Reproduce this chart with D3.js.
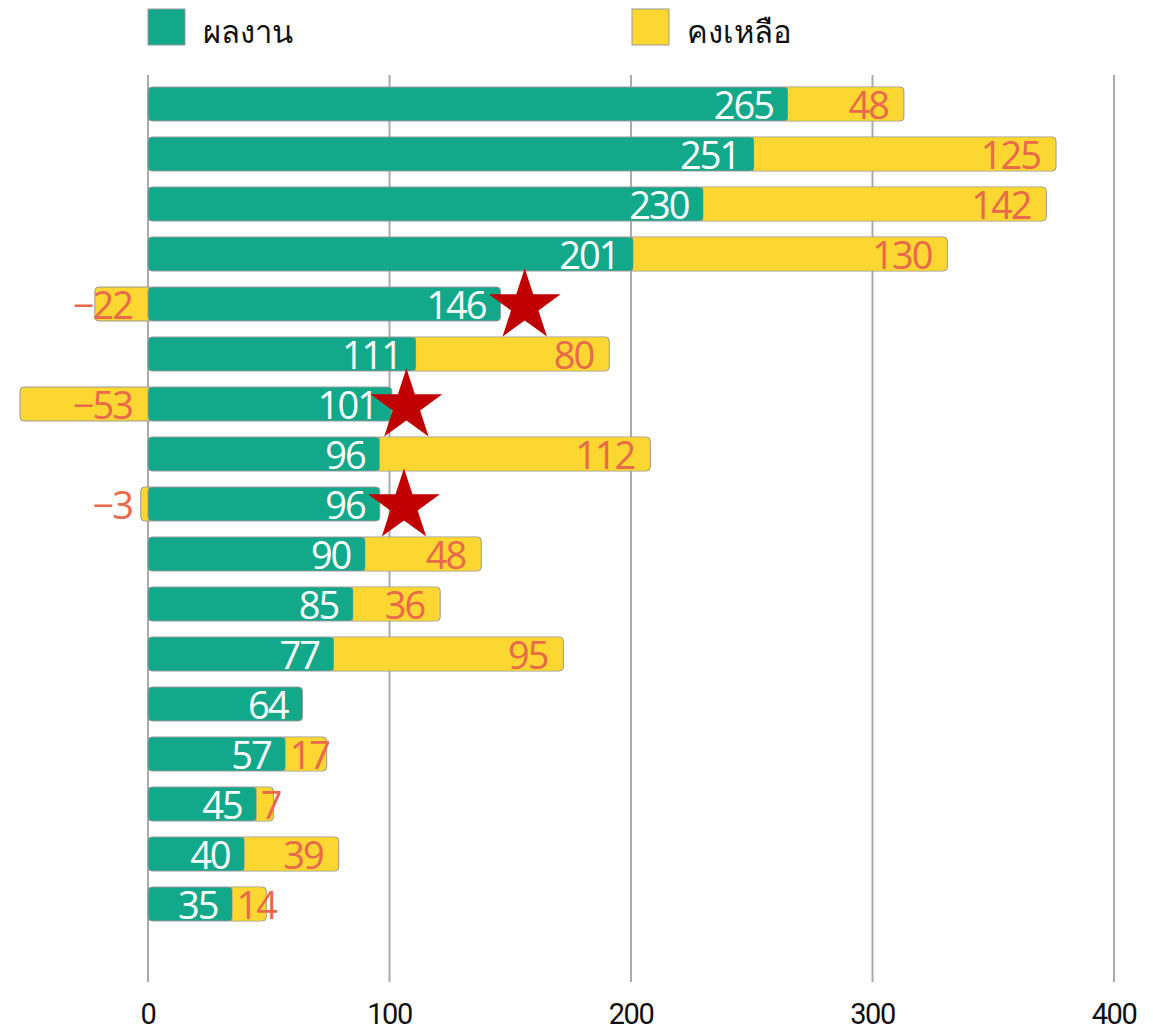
<!DOCTYPE html>
<html><head><meta charset="utf-8">
<script src="https://cdn.jsdelivr.net/npm/d3@7"></script>
<style>body{margin:0;background:#fff}</style>
</head><body>
<script>
const done = [265,251,230,201,146,111,101,96,96,90,85,77,64,57,45,40,35];
const remain = [48,125,142,130,-22,80,-53,112,-3,48,36,95,null,17,7,39,14];
const starAt = [null,null,null,null,156,null,107,null,106,null,null,null,null,null,null,null,null];
const ticks = [0,100,200,300,400];
const legendLabels = ["ผลงาน","คงเหลือ"];

const W=1153,H=1035;
const green="#12a88a", yellow="#fdd731", coral="#e9694b";
const svg=d3.select("body").append("svg").attr("width",W).attr("height",H);
const x=d3.scaleLinear().domain([0,400]).range([148,1114]);
const y=d3.scaleBand().domain(d3.range(done.length)).range([79,79+done.length*50]).paddingInner(0.32).paddingOuter(0.16);

// grid
svg.append("g").selectAll("line").data(ticks).join("line")
  .attr("x1",d=>x(d)).attr("x2",d=>x(d)).attr("y1",75).attr("y2",982)
  .attr("stroke","#aaa").attr("stroke-width",2);
svg.append("g").selectAll("text").data(ticks).join("text")
  .attr("x",d=>x(d)).attr("y",1024).attr("text-anchor","middle")
  .attr("font-family","Roboto, sans-serif").attr("font-size",29).attr("letter-spacing",-1.5)
  .attr("fill","#111").text(d=>d);

// legend
const lg=svg.append("g");
[[148,green],[632,yellow]].forEach((p,i)=>{
  lg.append("rect").attr("x",p[0]).attr("y",9).attr("width",37).attr("height",36).attr("fill",p[1]).attr("stroke","#999").attr("stroke-width",1);
  lg.append("text").attr("x",p[0]+55).attr("y",43).attr("font-family","'Noto Sans', sans-serif").attr("font-size",31).attr("font-weight",500).attr("fill","#111").text(legendLabels[i]);
});

const bh=y.bandwidth();
const rows=svg.append("g");
done.forEach((v,i)=>{
  const r=remain[i];
  const y0=y(i), cy=y0+bh/2;
  const g=rows.append("g");
  if(r!==null && r<0){
    g.append("rect").attr("x",x(r)).attr("y",y0).attr("width",x(0)-x(r)+6).attr("height",bh).attr("rx",4).attr("fill",yellow).attr("stroke","#999").attr("stroke-width",1);
  }
  if(r!==null && r>0){
    g.append("rect").attr("x",x(v)-6).attr("y",y0).attr("width",x(v+r)-x(v)+6).attr("height",bh).attr("rx",4).attr("fill",yellow).attr("stroke","#999").attr("stroke-width",1);
  }
  g.append("rect").attr("x",x(0)).attr("y",y0).attr("width",x(v)-x(0)).attr("height",bh).attr("rx",4).attr("fill",green).attr("stroke","#999").attr("stroke-width",1);
  if(r!==null && r>0){
    g.append("rect").attr("x",x(v)).attr("y",y0+0.5).attr("width",x(v+r)-x(v)-4).attr("height",bh-1).attr("fill",yellow);
  }
  const fs=38;
  g.append("text").attr("x",x(v)-15).attr("y",cy+15).attr("text-anchor","end")
    .attr("font-family","'Open Sans', sans-serif").attr("font-size",fs).attr("letter-spacing",-2)
    .attr("fill","#fff").text(v);
  if(r!==null){
    const t=g.append("text").attr("y",cy+15)
      .attr("font-family","'Open Sans', sans-serif").attr("font-size",fs).attr("letter-spacing",-2)
      .attr("fill",coral).text(r<0?"−"+Math.abs(r):r);
    const tw=t.node().getComputedTextLength();
    if(r<0){
      t.attr("text-anchor","end").attr("x",x(0)-16);
    } else {
      const xe=Math.max(x(v+r)-16, x(v)+4+tw);
      t.attr("text-anchor","end").attr("x",xe);
    }
  }
});

// stars
const star=d3.symbol().type(d3.symbolStar).size(1600);
svg.append("g").selectAll("path").data(starAt.map((s,i)=>({s,i})).filter(d=>d.s!==null)).join("path")
  .attr("d",star).attr("fill","#c00000")
  .attr("transform",d=>`translate(${x(d.s)},${y(d.i)+bh/2+2})`);
</script>
</body></html>
